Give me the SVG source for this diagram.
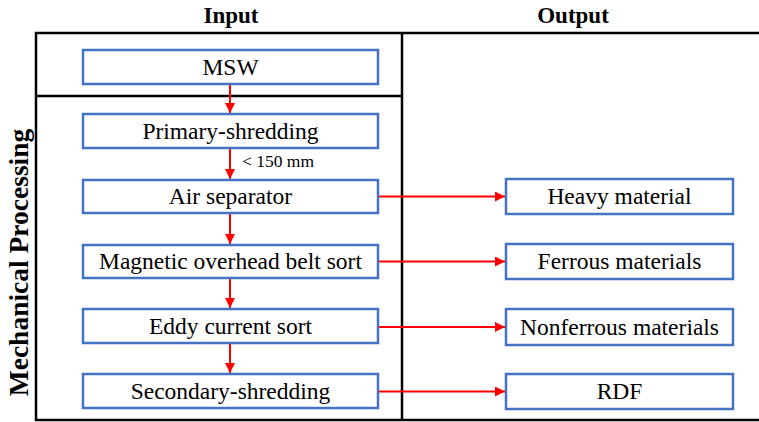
<svg xmlns="http://www.w3.org/2000/svg" width="759" height="422" viewBox="0 0 759 422" font-family="Liberation Serif">
<defs>
<style>
.frame{fill:none;stroke:#000;stroke-width:2.5}
.box{fill:#fff;stroke:#4472C4;stroke-width:2.5}
.lbl{font-size:23.5px;fill:#000;text-anchor:middle}
.hd{font-size:23px;font-weight:bold;fill:#000;text-anchor:middle}
.sm{font-size:17.5px;fill:#000}
.c{stroke:#FF0000;stroke-width:2;fill:none;marker-end:url(#ah)}
</style>
<marker id="ah" viewBox="0 0 10 10" refX="10" refY="5" markerWidth="5" markerHeight="5" markerUnits="strokeWidth" orient="auto">
<path d="M0,0 L10,5 L0,10 z" fill="#FF0000"/>
</marker>
</defs>
<rect width="759" height="422" fill="#fff"/>
<g id="frame">
<rect class="frame" x="36" y="33" width="740" height="387"/>
<line class="frame" x1="402" y1="33" x2="402" y2="420"/>
<line class="frame" x1="36" y1="96" x2="402" y2="96"/>
</g>
<g id="headers">
<text class="hd" font-family="Liberation Serif" x="231" y="23">Input</text>
<text class="hd" font-family="Liberation Serif" x="573" y="23">Output</text>
<text class="hd" font-family="Liberation Serif" font-size="27.5" style="font-size:27.5px" transform="translate(28,262.5) rotate(-90)">Mechanical Processing</text>
</g>
<g id="connectors">
<line class="c" x1="230" y1="85" x2="230" y2="113"/>
<line class="c" x1="230" y1="149" x2="230" y2="179"/>
<line class="c" x1="230" y1="214" x2="230" y2="244"/>
<line class="c" x1="230" y1="279" x2="230" y2="308"/>
<line class="c" x1="230" y1="344" x2="230" y2="373"/>
<line class="c" x1="378" y1="196.5" x2="505" y2="196.5"/>
<line class="c" x1="378" y1="261.5" x2="505" y2="261.5"/>
<line class="c" x1="378" y1="327" x2="505" y2="327"/>
<line class="c" x1="378" y1="391.5" x2="505" y2="391.5"/>
<text class="sm" font-family="Liberation Serif" x="242" y="167">&lt; 150 mm</text>
</g>
<g id="msw"><rect class="box" x="83" y="50" width="295" height="34"/><text class="lbl" font-family="Liberation Serif" x="230.5" y="75">MSW</text></g>
<g id="primary"><rect class="box" x="83" y="114" width="295" height="34"/><text class="lbl" font-family="Liberation Serif" x="230.5" y="139">Primary-shredding</text></g>
<g id="air"><rect class="box" x="83" y="180" width="295" height="33"/><text class="lbl" font-family="Liberation Serif" x="230.5" y="204">Air separator</text></g>
<g id="magnetic"><rect class="box" x="83" y="245" width="295" height="33"/><text class="lbl" font-family="Liberation Serif" x="230.5" y="269">Magnetic overhead belt sort</text></g>
<g id="eddy"><rect class="box" x="83" y="309" width="295" height="34"/><text class="lbl" font-family="Liberation Serif" x="230.5" y="334">Eddy current sort</text></g>
<g id="secondary"><rect class="box" x="83" y="374" width="295" height="34"/><text class="lbl" font-family="Liberation Serif" x="230.5" y="399">Secondary-shredding</text></g>
<g id="heavy"><rect class="box" x="506" y="179" width="227" height="35"/><text class="lbl" font-family="Liberation Serif" x="619.5" y="204">Heavy material</text></g>
<g id="ferrous"><rect class="box" x="506" y="244" width="227" height="35"/><text class="lbl" font-family="Liberation Serif" x="619.5" y="269">Ferrous materials</text></g>
<g id="nonferrous"><rect class="box" x="506" y="309" width="227" height="36"/><text class="lbl" font-family="Liberation Serif" x="619.5" y="334.5">Nonferrous materials</text></g>
<g id="rdf"><rect class="box" x="506" y="374" width="227" height="35"/><text class="lbl" font-family="Liberation Serif" x="619.5" y="399">RDF</text></g>
</svg>
